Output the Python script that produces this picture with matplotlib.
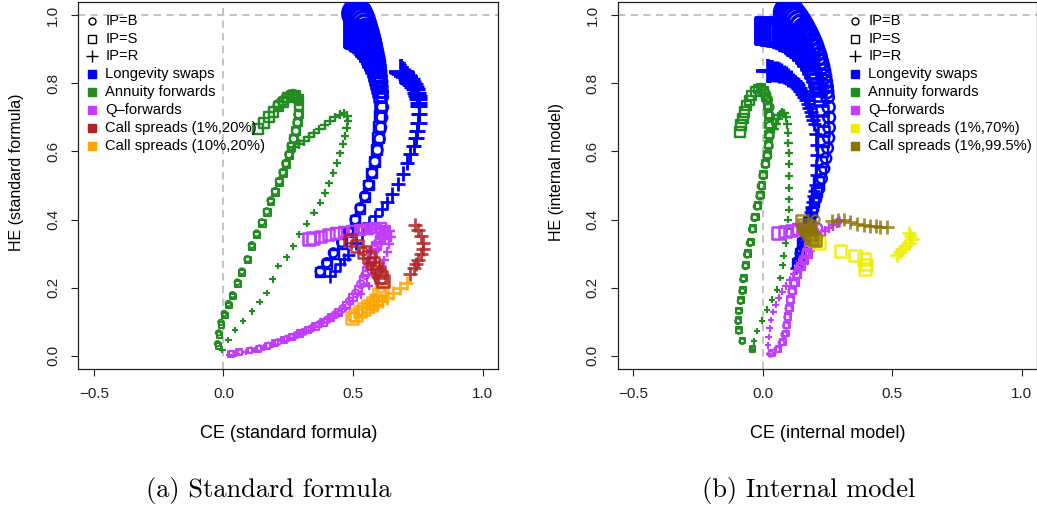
import numpy as np
import matplotlib
matplotlib.use("Agg")
import matplotlib.pyplot as plt

plt.rcParams['font.family'] = ['Liberation Sans', 'DejaVu Sans']

# ---------------- (a) standard formula ----------------
sf_swap_B_ce = [0.373,0.398,0.424,0.456,0.482,0.508,0.527,0.545,0.560,0.573,0.584,0.594,0.602,0.607,0.611,0.613,0.612,0.611,0.609,0.607,0.604,0.601,0.598,0.594,0.590,0.585,0.580,0.575,0.570,0.564,0.558,0.552,0.546,0.540,0.534,0.528,0.522,0.515]
sf_swap_B_he = [0.248,0.273,0.302,0.333,0.366,0.400,0.434,0.469,0.503,0.537,0.570,0.604,0.637,0.670,0.700,0.730,0.760,0.775,0.790,0.805,0.820,0.835,0.850,0.863,0.875,0.888,0.900,0.913,0.925,0.937,0.948,0.958,0.968,0.977,0.985,0.992,0.998,1.005]
sf_swap_S_ce = [0.376,0.400,0.428,0.458,0.486,0.510,0.530,0.548,0.562,0.574,0.584,0.592,0.598,0.602,0.604,0.604,0.602,0.600,0.598,0.595,0.592,0.588,0.584,0.580,0.575,0.570,0.565,0.560,0.555,0.550,0.545,0.540,0.535,0.531,0.527,0.523,0.520]
sf_swap_S_he = [0.243,0.268,0.297,0.328,0.362,0.396,0.430,0.465,0.500,0.535,0.570,0.605,0.640,0.672,0.703,0.733,0.762,0.776,0.790,0.803,0.815,0.828,0.840,0.851,0.862,0.872,0.882,0.891,0.900,0.908,0.915,0.922,0.928,0.933,0.938,0.942,0.945]
sf_swap_R_ce = [0.411,0.430,0.450,0.466,0.482,0.510,0.535,0.560,0.585,0.610,0.630,0.650,0.675,0.692,0.707,0.720,0.733,0.742,0.748,0.752,0.754,0.754,0.753,0.752,0.749,0.745,0.740,0.735,0.729,0.722,0.715,0.708,0.701,0.695,0.690,0.685]
sf_swap_R_he = [0.233,0.250,0.268,0.283,0.297,0.330,0.360,0.390,0.410,0.430,0.450,0.475,0.503,0.535,0.567,0.592,0.616,0.640,0.660,0.684,0.709,0.733,0.743,0.753,0.763,0.773,0.782,0.790,0.798,0.805,0.812,0.818,0.823,0.828,0.831,0.834]

sf_ann_B_ce = [-0.023,-0.019,-0.010,0.003,0.019,0.035,0.054,0.071,0.092,0.109,0.128,0.148,0.167,0.182,0.199,0.215,0.229,0.240,0.252,0.261,0.270,0.279,0.285,0.289,0.291,0.290,0.282,0.270,0.257,0.243,0.228,0.212]
sf_ann_B_he = [0.035,0.067,0.098,0.124,0.153,0.179,0.216,0.248,0.284,0.325,0.359,0.392,0.424,0.456,0.483,0.513,0.539,0.565,0.591,0.616,0.637,0.660,0.684,0.709,0.730,0.748,0.762,0.768,0.766,0.758,0.748,0.737]
sf_ann_S_ce = [-0.020,-0.016,-0.008,0.005,0.021,0.037,0.056,0.073,0.094,0.111,0.130,0.150,0.169,0.184,0.200,0.216,0.230,0.242,0.254,0.263,0.272,0.280,0.286,0.290,0.292,0.290,0.280,0.265,0.248,0.230,0.212,0.194,0.175,0.155,0.135]
sf_ann_S_he = [0.028,0.060,0.090,0.118,0.147,0.174,0.210,0.243,0.280,0.320,0.354,0.388,0.420,0.452,0.480,0.510,0.536,0.562,0.588,0.613,0.636,0.660,0.685,0.710,0.735,0.755,0.766,0.766,0.758,0.745,0.731,0.716,0.701,0.684,0.665]
sf_ann_R_ce = [-0.004,0.019,0.045,0.075,0.109,0.139,0.167,0.190,0.212,0.244,0.270,0.293,0.321,0.349,0.373,0.392,0.408,0.424,0.437,0.450,0.460,0.469,0.475,0.480,0.478,0.465,0.450,0.430,0.410,0.390,0.370,0.350,0.330,0.310,0.290,0.272]
sf_ann_R_he = [0.018,0.045,0.075,0.101,0.130,0.158,0.184,0.224,0.263,0.289,0.322,0.356,0.388,0.420,0.449,0.478,0.506,0.537,0.567,0.594,0.621,0.645,0.670,0.690,0.705,0.712,0.708,0.700,0.690,0.678,0.665,0.653,0.642,0.632,0.622,0.612]

sf_q_B_ce = [0.028,0.065,0.105,0.140,0.175,0.210,0.245,0.280,0.310,0.340,0.370,0.400,0.430,0.460,0.487,0.510,0.530,0.547,0.561,0.572,0.584,0.598,0.612,0.620,0.600,0.570,0.540]
sf_q_B_he = [0.006,0.010,0.016,0.022,0.030,0.040,0.050,0.060,0.070,0.080,0.092,0.105,0.120,0.138,0.160,0.183,0.210,0.237,0.263,0.288,0.312,0.332,0.350,0.362,0.370,0.371,0.370]
sf_q_S_ce = [0.030,0.060,0.100,0.135,0.170,0.200,0.235,0.265,0.295,0.325,0.355,0.385,0.415,0.445,0.475,0.500,0.520,0.540,0.555,0.567,0.578,0.590,0.605,0.620,0.625,0.610,0.585,0.555,0.525,0.495,0.465,0.435,0.405,0.375,0.345,0.330]
sf_q_S_he = [0.005,0.010,0.015,0.020,0.028,0.037,0.046,0.055,0.065,0.075,0.086,0.098,0.112,0.128,0.148,0.170,0.195,0.222,0.250,0.275,0.300,0.322,0.340,0.355,0.368,0.375,0.375,0.373,0.370,0.367,0.364,0.360,0.355,0.350,0.345,0.342]
sf_q_R_ce = [0.020,0.050,0.085,0.120,0.155,0.190,0.225,0.258,0.290,0.320,0.350,0.380,0.410,0.440,0.470,0.500,0.530,0.560,0.585,0.605,0.620,0.632,0.640,0.645,0.640,0.625,0.605,0.585]
sf_q_R_he = [0.003,0.006,0.010,0.016,0.024,0.033,0.043,0.053,0.062,0.072,0.083,0.095,0.108,0.123,0.140,0.160,0.180,0.205,0.230,0.255,0.280,0.305,0.328,0.350,0.365,0.374,0.378,0.376]

sf_cs1_B_ce = [0.612,0.600,0.576,0.540,0.486]
sf_cs1_B_he = [0.222,0.247,0.275,0.306,0.343]
sf_cs1_S_ce = [0.614,0.607,0.601,0.590,0.578,0.560,0.542,0.515,0.488]
sf_cs1_S_he = [0.219,0.232,0.245,0.259,0.273,0.289,0.304,0.322,0.341]
sf_cs1_R_ce = [0.720,0.735,0.744,0.752,0.762,0.771,0.768,0.762,0.750,0.739]
sf_cs1_R_he = [0.240,0.258,0.270,0.282,0.298,0.314,0.332,0.351,0.368,0.385]

sf_cs2_B_ce = [0.608,0.585,0.555,0.525,0.497]
sf_cs2_B_he = [0.196,0.167,0.147,0.131,0.113]
sf_cs2_S_ce = [0.610,0.600,0.588,0.575,0.559,0.543,0.527,0.510,0.495]
sf_cs2_S_he = [0.194,0.180,0.165,0.155,0.145,0.137,0.130,0.120,0.111]
sf_cs2_R_ce = [0.706,0.680,0.655,0.632,0.610,0.594,0.578]
sf_cs2_R_he = [0.214,0.200,0.184,0.170,0.160,0.150,0.145]

# ---------------- (b) internal model ----------------
im_swap_B_ce = [0.140,0.150,0.160,0.172,0.185,0.196,0.207,0.218,0.228,0.237,0.244,0.250,0.254,0.256,0.256,0.254,0.250,0.247,0.244,0.240,0.236,0.231,0.226,0.220,0.214,0.207,0.200,0.193,0.185,0.177,0.168,0.159,0.150,0.141,0.132,0.124,0.115,0.107,0.100]
im_swap_B_he = [0.280,0.310,0.340,0.370,0.400,0.430,0.460,0.490,0.520,0.550,0.580,0.610,0.640,0.670,0.700,0.730,0.760,0.775,0.790,0.805,0.820,0.835,0.850,0.864,0.878,0.891,0.903,0.915,0.926,0.937,0.948,0.958,0.968,0.977,0.985,0.992,0.998,1.003,1.008]
im_swap_S_ce = [0.135,0.145,0.155,0.167,0.178,0.190,0.200,0.210,0.218,0.225,0.230,0.233,0.234,0.234,0.232,0.228,0.222,0.218,0.214,0.209,0.203,0.197,0.190,0.183,0.175,0.167,0.158,0.149,0.140,0.130,0.120,0.110,0.100,0.090,0.080,0.070,0.060,0.050,0.040,0.032,0.025]
im_swap_S_he = [0.270,0.300,0.330,0.360,0.390,0.420,0.450,0.480,0.510,0.540,0.570,0.600,0.630,0.660,0.690,0.720,0.750,0.765,0.780,0.795,0.810,0.824,0.838,0.850,0.862,0.873,0.884,0.893,0.902,0.910,0.917,0.923,0.929,0.934,0.938,0.942,0.945,0.948,0.950,0.952,0.953]
im_swap_R_ce = [0.128,0.133,0.138,0.143,0.148,0.153,0.158,0.163,0.168,0.173,0.178,0.183,0.187,0.191,0.195,0.198,0.201,0.204,0.207,0.208,0.207,0.204,0.198,0.194,0.190,0.185,0.180,0.174,0.168,0.162,0.155,0.148,0.140,0.132,0.125,0.116,0.108,0.099,0.090,0.081,0.072,0.063,0.054,0.045,0.036,0.028,0.020]
im_swap_R_he = [0.258,0.272,0.287,0.302,0.316,0.331,0.346,0.361,0.376,0.391,0.406,0.421,0.436,0.452,0.468,0.484,0.500,0.530,0.560,0.590,0.620,0.650,0.680,0.693,0.705,0.717,0.728,0.739,0.750,0.760,0.770,0.779,0.787,0.794,0.800,0.806,0.812,0.817,0.822,0.826,0.830,0.832,0.834,0.835,0.836,0.836,0.836]

im_ann_B_ce = [-0.041,-0.080,-0.093,-0.096,-0.093,-0.086,-0.080,-0.076,-0.067,-0.061,-0.050,-0.041,-0.032,-0.022,-0.011,-0.006,0.001,0.010,0.017,0.023,0.026,0.027,0.027,0.024,0.018,0.010,0.002]
im_ann_B_he = [0.018,0.042,0.072,0.101,0.130,0.160,0.189,0.224,0.263,0.297,0.331,0.371,0.405,0.439,0.469,0.498,0.529,0.562,0.586,0.616,0.645,0.675,0.704,0.730,0.752,0.768,0.778]
im_ann_S_ce = [-0.040,-0.078,-0.091,-0.094,-0.091,-0.084,-0.078,-0.073,-0.064,-0.058,-0.047,-0.038,-0.029,-0.019,-0.008,-0.003,0.004,0.012,0.018,0.022,0.024,0.024,0.022,0.018,0.012,0.004,-0.006,-0.018,-0.030,-0.042,-0.053,-0.062,-0.070,-0.077,-0.083,-0.089]
im_ann_S_he = [0.020,0.045,0.075,0.104,0.133,0.163,0.192,0.227,0.266,0.300,0.334,0.374,0.408,0.442,0.472,0.501,0.532,0.565,0.592,0.620,0.650,0.680,0.710,0.737,0.760,0.776,0.785,0.784,0.776,0.765,0.751,0.734,0.716,0.697,0.677,0.658]
im_ann_R_ce = [-0.041,-0.035,-0.022,-0.002,0.017,0.036,0.055,0.068,0.077,0.081,0.088,0.094,0.098,0.100,0.100,0.100,0.100,0.100,0.100,0.099,0.097,0.094,0.090,0.083,0.075,0.066,0.058,0.050,0.044]
im_ann_R_he = [0.016,0.042,0.072,0.103,0.135,0.165,0.194,0.228,0.265,0.294,0.331,0.371,0.400,0.429,0.459,0.493,0.527,0.562,0.596,0.625,0.655,0.680,0.700,0.712,0.714,0.706,0.694,0.680,0.666]

im_q_B_ce = [0.030,0.055,0.072,0.083,0.090,0.095,0.100,0.106,0.112,0.120,0.130,0.142,0.155,0.168,0.178,0.188,0.198,0.210]
im_q_B_he = [0.005,0.018,0.038,0.062,0.088,0.113,0.138,0.163,0.188,0.212,0.237,0.260,0.280,0.300,0.320,0.340,0.360,0.375]
im_q_S_ce = [0.035,0.060,0.078,0.088,0.094,0.098,0.103,0.108,0.115,0.124,0.134,0.146,0.160,0.172,0.180,0.190,0.195,0.185,0.160,0.135,0.110,0.085,0.060]
im_q_S_he = [0.008,0.020,0.040,0.065,0.090,0.115,0.140,0.165,0.190,0.215,0.240,0.262,0.280,0.300,0.320,0.340,0.358,0.368,0.370,0.370,0.368,0.365,0.360]
im_q_R_ce = [0.025,0.020,0.022,0.026,0.032,0.040,0.050,0.062,0.075,0.090,0.105,0.120,0.135,0.150,0.165,0.180,0.195,0.210,0.225,0.240,0.255,0.270,0.285,0.295]
im_q_R_he = [0.005,0.030,0.055,0.080,0.105,0.128,0.150,0.170,0.188,0.205,0.222,0.240,0.257,0.275,0.292,0.310,0.325,0.340,0.353,0.365,0.375,0.383,0.390,0.395]

im_cs70_B_ce = [0.190,0.200,0.212]
im_cs70_B_he = [0.350,0.342,0.335]
im_cs70_S_ce = [0.197,0.216,0.300,0.357,0.390,0.400,0.396]
im_cs70_S_he = [0.341,0.331,0.307,0.294,0.284,0.268,0.255]
im_cs70_R_ce = [0.518,0.528,0.537,0.550,0.563,0.576,0.570,0.563]
im_cs70_R_he = [0.297,0.305,0.312,0.322,0.331,0.343,0.352,0.361]

im_cs995_B_ce = [0.203,0.195,0.188]
im_cs995_B_he = [0.400,0.385,0.372]
im_cs995_S_ce = [0.152,0.158,0.165,0.171,0.177,0.184,0.190,0.200]
im_cs995_S_he = [0.395,0.385,0.375,0.368,0.361,0.353,0.346,0.340]
im_cs995_R_ce = [0.267,0.290,0.312,0.338,0.364,0.390,0.415,0.435,0.453,0.479]
im_cs995_R_he = [0.395,0.398,0.400,0.394,0.388,0.385,0.382,0.380,0.378,0.377]

BLUE = '#0000FF'
GREEN = '#228B22'
PURPLE = '#BF3EFF'
RED = '#B22222'
ORANGE = '#FFA500'
YELLOW = '#EEEE00'
OLIVE = '#8B7500'

MARK = {'B': 'o', 'S': 's', 'R': '+'}


def pts(ax, ce, he, col, ip, s0, s1, power=2.0, alpha=1.0):
    # marker size grows along each trajectory
    t = np.linspace(0, 1, len(ce))
    ms = s0 + (s1 - s0) * t ** power
    lw = 1.1 + 0.09 * ms
    if ip == 'R':
        ax.scatter(ce, he, s=ms ** 2, marker='+', c=col, linewidths=lw, alpha=alpha, zorder=3)
    else:
        ax.scatter(ce, he, s=ms ** 2, marker=MARK[ip], facecolors='none',
                   edgecolors=col, linewidths=lw, alpha=alpha, zorder=3)


def frame(ax, xlab, ylab):
    ax.set_xlim(-0.56, 1.06)
    ax.set_ylim(-0.04, 1.04)
    ax.axvline(0, color='#BEBEBE', lw=1.3, dashes=(4, 3), zorder=1)
    ax.axhline(1, color='#BEBEBE', lw=1.3, dashes=(4, 3), zorder=1)
    ax.set_xticks([-0.5, 0.0, 0.5, 1.0])
    ax.set_xticklabels(['\u22120.5', '0.0', '0.5', '1.0'])
    ax.set_yticks([0.0, 0.2, 0.4, 0.6, 0.8, 1.0])
    ax.set_yticklabels(['0.0', '0.2', '0.4', '0.6', '0.8', '1.0'], rotation=90, va='center')
    ax.tick_params(length=5, width=0.8, labelsize=11, pad=8, colors='#222222')
    for s in ax.spines.values():
        s.set_linewidth(0.9)
        s.set_color('#222222')
    ax.set_xlabel(xlab, fontsize=13)
    ax.set_ylabel(ylab, fontsize=11.5)
    ax.xaxis.set_label_coords(0.5, -0.176)
    ax.xaxis.label.set_va('center')
    ax.yaxis.set_label_coords(-0.146, 0.537)
    ax.yaxis.label.set_va('center')


def legend(ax, x0, labels, cols):
    y = 0.9485
    step = 17.9 / 367.6
    items = [('o', 'k', 'IP=B', 5.0), ('s', 'k', 'IP=S', 5.2), ('+', 'k', 'IP=R', 8.0)]
    items += [('sf', c, l, 6.0) for l, c in zip(labels, cols)]
    for i, (m, c, l, ms) in enumerate(items):
        yy = y - i * step
        if m == 'sf':
            ax.plot([x0], [yy], marker='s', ms=ms, color=c, mec=c, ls='none',
                    transform=ax.transAxes, clip_on=False, zorder=5)
        else:
            ax.plot([x0], [yy], marker=m, ms=ms, mfc='none', mec=c, mew=1.0, ls='none',
                    transform=ax.transAxes, clip_on=False, zorder=5)
        ax.text(x0 + 0.032, yy, l, transform=ax.transAxes, fontsize=10.6,
                va='center', ha='left', zorder=5)


fig = plt.figure(figsize=(10.37, 5.09), dpi=100)
ax1 = fig.add_axes([0.0755, 0.2745, 0.405, 0.7222])
ax2 = fig.add_axes([0.5957, 0.2745, 0.4047, 0.7222])

# panel (a)
pts(ax1, sf_swap_B_ce, sf_swap_B_he, BLUE, 'B', 6.5, 20, 2.5)
pts(ax1, sf_swap_S_ce, sf_swap_S_he, BLUE, 'S', 6.5, 19, 2.5)
pts(ax1, sf_swap_R_ce, sf_swap_R_he, BLUE, 'R', 9, 18, 2)
pts(ax1, sf_ann_B_ce, sf_ann_B_he, GREEN, 'B', 3.8, 6.8, 1.5)
pts(ax1, sf_ann_S_ce, sf_ann_S_he, GREEN, 'S', 4, 7.2, 1.5)
pts(ax1, sf_ann_R_ce, sf_ann_R_he, GREEN, 'R', 4.5, 7.5, 1.5)
pts(ax1, sf_q_B_ce, sf_q_B_he, PURPLE, 'B', 4, 7, 1.5)
pts(ax1, sf_q_S_ce, sf_q_S_he, PURPLE, 'S', 4, 8.5, 1.5)
pts(ax1, sf_q_R_ce, sf_q_R_he, PURPLE, 'R', 4.5, 8, 1.5)
pts(ax1, sf_cs2_B_ce, sf_cs2_B_he, ORANGE, 'B', 5, 6, 1, 0.85)
pts(ax1, sf_cs2_S_ce, sf_cs2_S_he, ORANGE, 'S', 8.5, 8.5, 1, 0.85)
pts(ax1, sf_cs2_R_ce, sf_cs2_R_he, ORANGE, 'R', 10, 10, 1, 0.85)
pts(ax1, sf_cs1_B_ce, sf_cs1_B_he, RED, 'B', 5, 6, 1, 0.85)
pts(ax1, sf_cs1_S_ce, sf_cs1_S_he, RED, 'S', 8.5, 8.5, 1, 0.85)
pts(ax1, sf_cs1_R_ce, sf_cs1_R_he, RED, 'R', 10, 10, 1, 0.85)
frame(ax1, 'CE (standard formula)', 'HE (standard formula)')
legend(ax1, 0.032, ['Longevity swaps', 'Annuity forwards', 'Q\u2013forwards',
                    'Call spreads (1%,20%)', 'Call spreads (10%,20%)'],
       [BLUE, GREEN, PURPLE, RED, ORANGE])

# panel (b)
pts(ax2, im_swap_B_ce, im_swap_B_he, BLUE, 'B', 6.5, 20, 2)
pts(ax2, im_swap_S_ce, im_swap_S_he, BLUE, 'S', 6.5, 19, 2)
pts(ax2, im_swap_R_ce, im_swap_R_he, BLUE, 'R', 8, 17, 2.5)
pts(ax2, im_ann_B_ce, im_ann_B_he, GREEN, 'B', 3.8, 6.8, 1.5)
pts(ax2, im_ann_S_ce, im_ann_S_he, GREEN, 'S', 4, 7.2, 1.5)
pts(ax2, im_ann_R_ce, im_ann_R_he, GREEN, 'R', 4.5, 7.5, 1.5)
pts(ax2, im_q_B_ce, im_q_B_he, PURPLE, 'B', 4, 7, 1.5)
pts(ax2, im_q_S_ce, im_q_S_he, PURPLE, 'S', 4, 8.5, 1.5)
pts(ax2, im_q_R_ce, im_q_R_he, PURPLE, 'R', 4.5, 8, 1.5)
pts(ax2, im_cs70_B_ce, im_cs70_B_he, YELLOW, 'B', 6, 6, 1, 0.85)
pts(ax2, im_cs70_S_ce, im_cs70_S_he, YELLOW, 'S', 8.5, 8.5, 1, 0.85)
pts(ax2, im_cs70_R_ce, im_cs70_R_he, YELLOW, 'R', 10, 10, 1, 0.85)
pts(ax2, im_cs995_B_ce, im_cs995_B_he, OLIVE, 'B', 6, 6, 1, 0.8)
pts(ax2, im_cs995_S_ce, im_cs995_S_he, OLIVE, 'S', 8.5, 8.5, 1, 0.8)
pts(ax2, im_cs995_R_ce, im_cs995_R_he, OLIVE, 'R', 10, 10, 1, 0.8)
frame(ax2, 'CE (internal model)', 'HE (internal model)')
legend(ax2, 0.565, ['Longevity swaps', 'Annuity forwards', 'Q\u2013forwards',
                    'Call spreads (1%,70%)', 'Call spreads (1%,99.5%)'],
       [BLUE, GREEN, PURPLE, YELLOW, OLIVE])

fig.text(269 / 1037, 1 - 490 / 509, '(a) Standard formula', family='cmr10',
         fontsize=19, ha='center', va='center')
fig.text(809 / 1037, 1 - 490 / 509, '(b) Internal model', family='cmr10',
         fontsize=19, ha='center', va='center')

fig.savefig('out.png', dpi=100)
